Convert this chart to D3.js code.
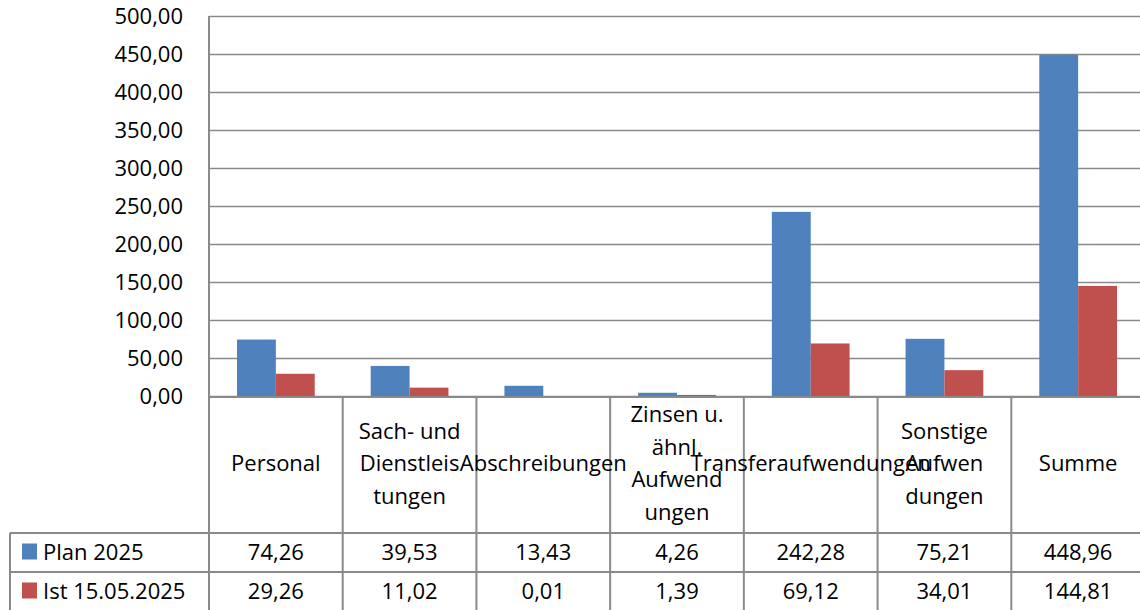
<!DOCTYPE html>
<html>
<head>
<meta charset="utf-8">
<script src="https://cdn.jsdelivr.net/npm/d3@7.9.0/dist/d3.min.js"></script>
<style>
  html, body { margin: 0; padding: 0; background: #fff; }
  svg { display: block; }
</style>
</head>
<body>
<svg width="1140" height="610"></svg>
<script>
// Categories, with the wrapped header lines shown in the table
const categories = ['Personal', 'Sach- und Dienstleistungen', 'Abschreibungen',
  'Zinsen u. ähnl. Aufwendungen', 'Transferaufwendungen', 'Sonstige Aufwendungen', 'Summe'];
const headerLines = [
  ['Personal'],
  ['Sach- und', 'Dienstleis', 'tungen'],
  ['Abschreibungen'],
  ['Zinsen u.', 'ähnl.', 'Aufwend', 'ungen'],
  ['Transferaufwendungen'],
  ['Sonstige', 'Aufwen', 'dungen'],
  ['Summe']
];
const series = ['Plan 2025', 'Ist 15.05.2025'];
const plan = [74.26, 39.53, 13.43, 4.26, 242.28, 75.21, 448.96];
const ist = [29.26, 11.02, 0.01, 1.39, 69.12, 34.01, 144.81];
const yTicks = [0, 50, 100, 150, 200, 250, 300, 350, 400, 450, 500];
const colors = ['#4F81BD', '#C0504D'];

const values = [plan, ist];
const fmt = v => v.toFixed(2).replace('.', ',');

const svg = d3.select('svg');
const gridColor = '#8a8a8a';
const font = '"Open Sans", "Noto Sans", sans-serif';
const fontSize = 22;

// Layout
const plotLeft = 209, plotRight = 1145;
const plotTop = 16, plotBase = 396;
const headerBottom = 533, row1Bottom = 572, row2Bottom = 611;
const legendLeft = 10;

// Scales
const x = d3.scaleBand().domain(categories).range([plotLeft, plotRight]).padding(0);
const xInner = d3.scaleBand().domain(series).range([0, x.bandwidth()])
  .paddingInner(0).paddingOuter(0.72);
const y = d3.scaleLinear().domain([0, 500]).range([plotBase, plotTop]);

// Gridlines
svg.append('g')
  .selectAll('line')
  .data(yTicks)
  .join('line')
  .attr('x1', plotLeft).attr('x2', 1140)
  .attr('y1', d => Math.round(y(d)) + 0.5).attr('y2', d => Math.round(y(d)) + 0.5)
  .attr('stroke', gridColor).attr('stroke-width', 1.5);

// Y axis labels
const yAxis = d3.axisLeft(y).tickValues(yTicks).tickFormat(fmt).tickSize(0).tickPadding(26);
const yg = svg.append('g').attr('transform', `translate(${plotLeft},0)`).call(yAxis);
yg.select('.domain').remove();
yg.selectAll('text')
  .attr('font-family', font)
  .attr('font-size', fontSize)
  .attr('fill', '#000');

// Bars
const groups = svg.append('g')
  .selectAll('g')
  .data(categories)
  .join('g')
  .attr('transform', d => `translate(${x(d)},0)`);

groups.selectAll('rect')
  .data((d, i) => series.map((s, j) => ({ s, v: values[j][i], j })))
  .join('rect')
  .attr('x', d => xInner(d.s))
  .attr('width', xInner.bandwidth())
  .attr('y', d => y(d.v))
  .attr('height', d => plotBase - y(d.v))
  .attr('fill', d => colors[d.j]);

// Table lines
const tbl = svg.append('g').attr('stroke', gridColor).attr('stroke-width', 2);
// vertical axis line through whole chart + table
tbl.append('line').attr('x1', plotLeft).attr('x2', plotLeft).attr('y1', plotTop).attr('y2', row2Bottom);
// category boundaries in table
const bounds = categories.slice(1).map(c => x(c));
tbl.selectAll('line.v')
  .data(bounds)
  .join('line')
  .attr('class', 'v')
  .attr('x1', d => d).attr('x2', d => d)
  .attr('y1', plotBase + 1).attr('y2', row2Bottom);
// horizontal row lines
tbl.append('line').attr('x1', plotLeft).attr('x2', 1140).attr('y1', plotBase + 1).attr('y2', plotBase + 1);
[headerBottom, row1Bottom].forEach(yy => {
  tbl.append('line').attr('x1', legendLeft).attr('x2', 1140).attr('y1', yy).attr('y2', yy);
});
tbl.append('line').attr('x1', legendLeft).attr('x2', legendLeft).attr('y1', headerBottom).attr('y2', row2Bottom);

// Header text
const lineH = 32.5;
const headerMid = 463.5;
categories.forEach((c, i) => {
  const lines = headerLines[i];
  const cx = x(c) + x.bandwidth() / 2;
  const y0 = headerMid - (lines.length - 1) * lineH / 2;
  svg.append('text')
    .attr('font-family', font)
    .attr('font-size', fontSize)
    .attr('text-anchor', 'middle')
    .attr('fill', '#000')
    .selectAll('tspan')
    .data(lines)
    .join('tspan')
    .attr('x', cx)
    .attr('y', (d, k) => y0 + k * lineH)
    .attr('dy', '0.35em')
    .text(d => d);
});

// Data rows
const rowMids = [(headerBottom + row1Bottom) / 2, (row1Bottom + row2Bottom) / 2];
series.forEach((s, j) => {
  const ym = rowMids[j];
  svg.append('rect')
    .attr('x', 22).attr('y', ym - 9).attr('width', 15).attr('height', 16)
    .attr('fill', colors[j]);
  svg.append('text')
    .attr('x', 43).attr('y', ym).attr('dy', '0.35em')
    .attr('font-family', font).attr('font-size', fontSize).attr('fill', '#000')
    .text(s);
  svg.append('g')
    .selectAll('text')
    .data(categories)
    .join('text')
    .attr('x', d => x(d) + x.bandwidth() / 2)
    .attr('y', ym).attr('dy', '0.35em')
    .attr('text-anchor', 'middle')
    .attr('font-family', font).attr('font-size', fontSize).attr('fill', '#000')
    .text((d, i) => fmt(values[j][i]));
});
</script>
</body>
</html>
